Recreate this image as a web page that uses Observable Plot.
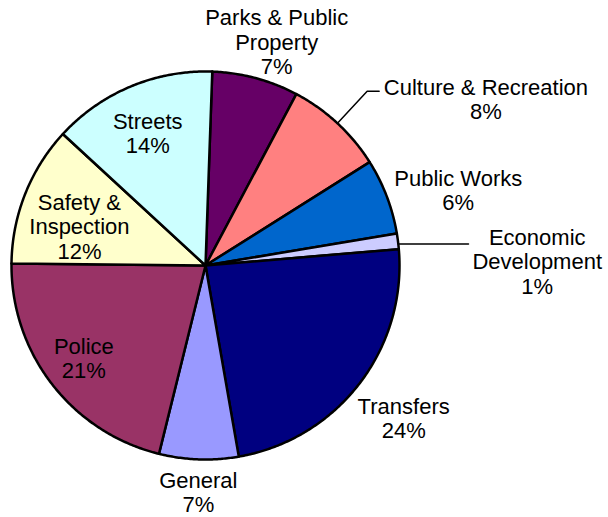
<!DOCTYPE html>
<html><head><meta charset="utf-8">
<script src="https://cdn.jsdelivr.net/npm/d3@7"></script>
<script src="https://cdn.jsdelivr.net/npm/@observablehq/plot@0.6"></script>
<style>html,body{margin:0;padding:0;background:#fff;overflow:hidden}</style>
</head><body><div id="chart"></div>
<script>
// ---- data ----
const categories = ["Parks & Public\nProperty", "Culture & Recreation", "Public Works", "Economic\nDevelopment", "Transfers", "General", "Police", "Safety &\nInspection", "Streets"];
const values = [7.2, 8.3, 6.3, 1.3, 23.6, 6.6, 21.3, 11.7, 13.7];
const colors = ["#660066", "#FF8080", "#0066CC", "#CCCCFF", "#000080", "#9999FF", "#993366", "#FFFFCC", "#CCFFFF"];

// ---- layout (styles) ----
const startDeg = 2;
const labelR = [1.21, 1.68, 1.36, 1.71, 1.29, 1.17, 0.789, 0.68, 0.745];
const labelShiftDeg = [2.7, 16.5, 4.2, 6.5, 0, -0.2, 0.4, -4.5, -0.9];

const W = 608, H = 517, cx = 205, cy = 265, R = 194;
const total = d3.sum(values);
const rad = Math.PI / 180;
const pt = (deg, r) => ({x: Math.sin(deg * rad) * r, y: -Math.cos(deg * rad) * r});

let acc = startDeg;
const slices = values.map((v, i) => {
  const a0 = acc, a1 = acc + v / total * 360; acc = a1;
  return {i, name: categories[i], value: v, color: colors[i], a0, a1, mid: (a0 + a1) / 2};
});

const polys = slices.flatMap(s => {
  const pts = [{x: 0, y: 0}];
  const n = Math.max(2, Math.ceil((s.a1 - s.a0) / 0.5));
  for (let k = 0; k <= n; k++) pts.push(pt(s.a0 + (s.a1 - s.a0) * k / n, 1));
  pts.push({x: 0, y: 0});
  return pts.map(p => ({...p, key: s.name, color: s.color}));
});

const labels = slices.map(s => ({
  ...pt(s.mid + labelShiftDeg[s.i], labelR[s.i]),
  text: s.name + "\n" + Math.round(s.value) + "%"
}));

// leader lines: Culture (elbow) and Economic Development (horizontal)
const leaders = [];
{
  const s = slices[1];
  const a = pt(s.mid, 1), b = pt(s.mid, 1.225);
  [a, b, {x: b.x + 12 / R, y: b.y}].forEach(p => leaders.push({...p, key: "c"}));
}
{
  const s = slices[3];
  const a = pt(s.mid + 0.8, 1);
  [a, {x: (468 - cx) / R, y: a.y}].forEach(p => leaders.push({...p, key: "e"}));
}

const chart = Plot.plot({
  width: W, height: H, margin: 0,
  x: {domain: [-cx / R, (W - cx) / R], axis: null},
  y: {domain: [-cy / R, (H - cy) / R], range: [0, H], axis: null},
  color: {type: "identity"},
  style: {background: "#fff"},
  marks: [
    Plot.line(polys, {x: "x", y: "y", z: "key", fill: "color", stroke: "black", strokeWidth: 2.5, strokeLinejoin: "round"}),
    Plot.line(leaders, {x: "x", y: "y", z: "key", stroke: "black", strokeWidth: 1.5}),
    Plot.text(labels, {x: "x", y: "y", text: "text", fontSize: 22, lineHeight: 1.1, fill: "black", fontFamily: "'Liberation Sans', Arial, sans-serif"})
  ]
});
document.getElementById("chart").appendChild(chart);
</script>
</body></html>
